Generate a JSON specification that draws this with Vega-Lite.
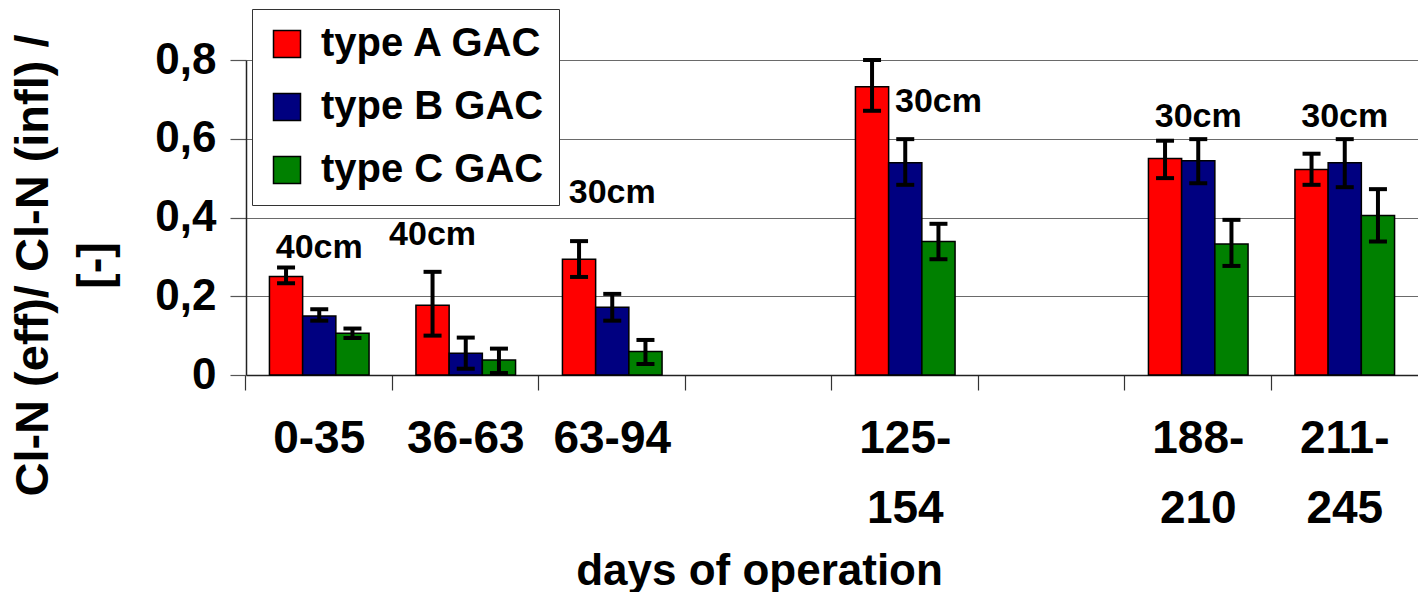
{
  "$schema": "https://vega.github.io/schema/vega-lite/v6.json",
  "width": 1172,
  "height": 315,
  "autosize": {"type": "none"},
  "padding": {"left": 246, "top": 60, "right": 0, "bottom": 217},
  "background": "white",
  "config": {
    "font": "Liberation Sans",
    "view": {"stroke": null},
    "axis": {"labelFont": "Liberation Sans", "titleFont": "Liberation Sans", "labelFontWeight": "bold", "titleFontWeight": "bold", "labelColor": "black", "titleColor": "black"}
  },
  "datasets": {
    "bars": [
      {"period": "0-35", "type": "type A GAC", "value": 0.250, "lo": 0.233, "hi": 0.273},
      {"period": "0-35", "type": "type B GAC", "value": 0.150, "lo": 0.138, "hi": 0.167},
      {"period": "0-35", "type": "type C GAC", "value": 0.106, "lo": 0.094, "hi": 0.118},
      {"period": "36-63", "type": "type A GAC", "value": 0.177, "lo": 0.100, "hi": 0.262},
      {"period": "36-63", "type": "type B GAC", "value": 0.055, "lo": 0.016, "hi": 0.095},
      {"period": "36-63", "type": "type C GAC", "value": 0.038, "lo": 0.005, "hi": 0.067},
      {"period": "63-94", "type": "type A GAC", "value": 0.294, "lo": 0.249, "hi": 0.340},
      {"period": "63-94", "type": "type B GAC", "value": 0.172, "lo": 0.138, "hi": 0.206},
      {"period": "63-94", "type": "type C GAC", "value": 0.060, "lo": 0.028, "hi": 0.089},
      {"period": "125-154", "type": "type A GAC", "value": 0.732, "lo": 0.671, "hi": 0.800},
      {"period": "125-154", "type": "type B GAC", "value": 0.539, "lo": 0.483, "hi": 0.599},
      {"period": "125-154", "type": "type C GAC", "value": 0.339, "lo": 0.294, "hi": 0.384},
      {"period": "188-210", "type": "type A GAC", "value": 0.550, "lo": 0.500, "hi": 0.595},
      {"period": "188-210", "type": "type B GAC", "value": 0.544, "lo": 0.487, "hi": 0.599},
      {"period": "188-210", "type": "type C GAC", "value": 0.333, "lo": 0.277, "hi": 0.394},
      {"period": "211-245", "type": "type A GAC", "value": 0.522, "lo": 0.483, "hi": 0.562},
      {"period": "211-245", "type": "type B GAC", "value": 0.539, "lo": 0.477, "hi": 0.599},
      {"period": "211-245", "type": "type C GAC", "value": 0.405, "lo": 0.339, "hi": 0.472}
    ],
    "notes": [
      {"period": "0-35", "over": "type B GAC", "y": 0.297, "text": "40cm"},
      {"period": "36-63", "over": "type A GAC", "y": 0.330, "text": "40cm"},
      {"period": "63-94", "over": "type B GAC", "y": 0.437, "text": "30cm"},
      {"period": "125-154", "over": "type C GAC", "y": 0.668, "text": "30cm"},
      {"period": "188-210", "over": "type B GAC", "y": 0.630, "text": "30cm"},
      {"period": "211-245", "over": "type B GAC", "y": 0.630, "text": "30cm"}
    ]
  },
  "encoding": {
    "x": {
      "field": "period",
      "type": "nominal",
      "sort": null,
      "scale": {"domain": ["0-35", "36-63", "63-94", "gap1", "125-154", "gap2", "188-210", "211-245"], "paddingInner": 0.32, "paddingOuter": 0.16},
      "axis": {
        "title": "days of operation",
        "titleFontSize": 44,
        "titleBaseline": "top",
        "titleX": 513,
        "titleY": 174,
        "labelAngle": 0,
        "labelFontSize": 46,
        "labelLineHeight": 70,
        "labelBaseline": "top",
        "labelPadding": 26,
        "labelOverlap": false,
        "labelBound": false,
        "labelExpr": "datum.value == '125-154' ? ['125-', '154'] : datum.value == '188-210' ? ['188-', '210'] : datum.value == '211-245' ? ['211-', '245'] : (indexof(datum.value, 'gap') == 0 ? '' : datum.value)",
        "bandPosition": -0.2353,
        "tickSize": 15,
        "tickColor": "#333333",
        "tickWidth": 1.2,
        "domainColor": "#222222",
        "domainWidth": 1.5,
        "grid": false
      }
    },
    "y": {
      "type": "quantitative",
      "scale": {"domain": [0, 0.8], "nice": false}
    }
  },
  "layer": [
    {
      "data": {"name": "bars"},
      "mark": {"type": "bar", "stroke": "black", "strokeWidth": 1.5},
      "encoding": {
        "xOffset": {"field": "type", "type": "nominal", "scale": {"domain": ["type A GAC", "type B GAC", "type C GAC"], "paddingInner": 0, "paddingOuter": 0}},
        "y": {
          "field": "value",
          "type": "quantitative",
          "scale": {"domain": [0, 0.8], "nice": false},
          "axis": {
            "title": ["Cl-N (eff)/ Cl-N (infl) /", "[-]"],
            "titleFontSize": 47,
            "titleLineHeight": 62,
            "titleAngle": -90,
            "titleBaseline": "top",
            "titleAlign": "center",
            "titleX": -236,
            "titleY": 205,
            "values": [0, 0.2, 0.4, 0.6, 0.8],
            "format": ".1~f",
            "labelExpr": "replace(datum.label, '.', ',')",
            "labelFontSize": 44,
            "labelPadding": 14,
            "tickSize": 16,
            "tickColor": "#555555",
            "tickWidth": 1.2,
            "domainColor": "#222222",
            "domainWidth": 1.5,
            "grid": true,
            "gridColor": "#6a6a6a",
            "gridWidth": 1.2
          }
        },
        "color": {
          "field": "type",
          "type": "nominal",
          "scale": {"domain": ["type A GAC", "type B GAC", "type C GAC"], "range": ["#FF0000", "#000080", "#008000"]},
          "legend": {
            "title": null,
            "orient": "none",
            "legendX": 6,
            "legendY": -51,
            "padding": 15,
            "fillColor": "white",
            "strokeColor": "#333333",
            "labelFont": "Liberation Sans",
            "labelFontWeight": "bold",
            "labelFontSize": 40,
            "labelLimit": 0,
            "labelColor": "black",
            "labelOffset": 14,
            "symbolType": "square",
            "symbolSize": 729,
            "symbolStrokeColor": "black",
            "symbolStrokeWidth": 1.5,
            "symbolOpacity": 1,
            "rowPadding": 23
          }
        }
      }
    },
    {
      "data": {"name": "bars"},
      "mark": {"type": "rule", "color": "black", "strokeWidth": 4},
      "encoding": {
        "xOffset": {"field": "type", "type": "nominal", "scale": {"domain": ["type A GAC", "type B GAC", "type C GAC"], "paddingInner": 0, "paddingOuter": 0}},
        "y": {"field": "lo", "type": "quantitative"},
        "y2": {"field": "hi"}
      }
    },
    {
      "data": {"name": "bars"},
      "mark": {"type": "tick", "color": "black", "size": 18, "thickness": 4, "opacity": 1},
      "encoding": {
        "xOffset": {"field": "type", "type": "nominal", "scale": {"domain": ["type A GAC", "type B GAC", "type C GAC"], "paddingInner": 0, "paddingOuter": 0}},
        "y": {"field": "lo", "type": "quantitative"}
      }
    },
    {
      "data": {"name": "bars"},
      "mark": {"type": "tick", "color": "black", "size": 18, "thickness": 4, "opacity": 1},
      "encoding": {
        "xOffset": {"field": "type", "type": "nominal", "scale": {"domain": ["type A GAC", "type B GAC", "type C GAC"], "paddingInner": 0, "paddingOuter": 0}},
        "y": {"field": "hi", "type": "quantitative"}
      }
    },
    {
      "data": {"name": "notes"},
      "mark": {"type": "text", "font": "Liberation Sans", "fontWeight": "bold", "fontSize": 34, "baseline": "alphabetic", "align": "center", "color": "black"},
      "encoding": {
        "xOffset": {"field": "over", "type": "nominal", "scale": {"domain": ["type A GAC", "type B GAC", "type C GAC"], "paddingInner": 0, "paddingOuter": 0}},
        "y": {"field": "y", "type": "quantitative"},
        "text": {"field": "text"}
      }
    }
  ]
}
